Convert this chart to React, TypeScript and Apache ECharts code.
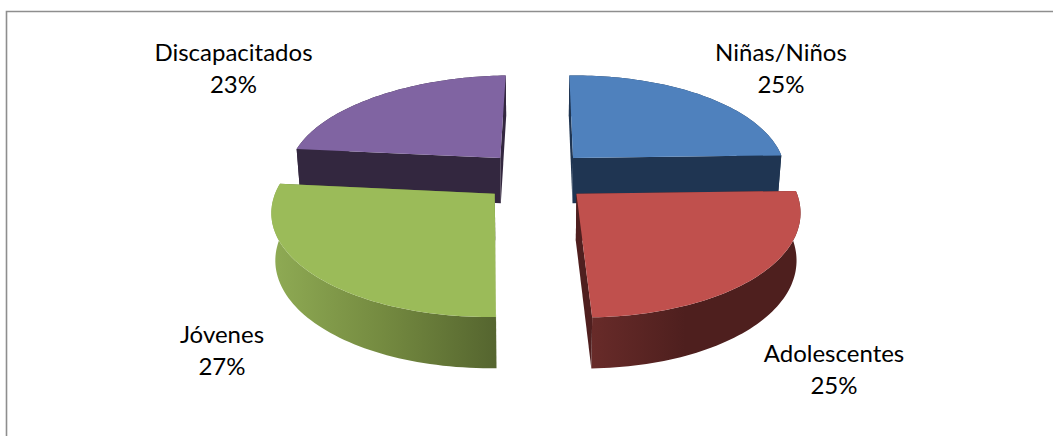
import React, { useEffect, useRef } from "react";
import * as echarts from "echarts";

const categories = ["Niñas/Niños", "Adolescentes", "Jóvenes", "Discapacitados"];
const shares = [25, 25, 27, 23];

const topColors = ["#4F81BD", "#C0504D", "#9BBB59", "#8064A2"];
const wallColors = ["#1F3552", "#4F1F1F", "#5E7036", "#33273F"];
const rimStops: [number, string][][] = [
  [[0, "#1F3552"], [1, "#1F3552"]],
  [[0, "#682B29"], [0.45, "#4E1F1E"], [1, "#4E1F1E"]],
  [[0, "#8FAB54"], [0.5, "#748A40"], [1, "#55652F"]],
  [[0, "#33273F"], [1, "#33273F"]],
];

// Label centres, one per slice, in page pixels.
const labelCentres = [
  [781, 67.5],
  [834, 368.5],
  [222, 349.5],
  [233.5, 67.5],
];

// Projection of the tilted, exploded pie.
const CX = 536;
const CY = 176;
const RX = 214.5;
const RY = 99.5;
const PERSPECTIVE = 0.147;
const EXPLODE = 0.18;
const THICK = 46;
const BASE_SHRINK = 0.985;
const ROTATION = -1;
const BOW = 3;
const ROLL = 0.005;

function project(px: number, py: number, base: boolean): number[] {
  const w = 1 + PERSPECTIVE * py;
  const x = (RX * px) / w + BOW * py * py;
  const y = CY - (RY * py) / w - ROLL * x;
  if (!base) return [CX + x, y];
  return [CX + x * BASE_SHRINK, y + THICK - 4.4 * py];
}

function sliceShapes(index: number) {
  const total = shares.reduce((a, b) => a + b, 0);
  const before = shares.slice(0, index).reduce((a, b) => a + b, 0);
  const start = ROTATION + (before / total) * 360;
  const end = start + (shares[index] / total) * 360;
  const mid = (((start + end) / 2) * Math.PI) / 180;
  // Diagonal explosion away from the pie's centre, kept on the quadrant's axis.
  const ex = EXPLODE * Math.SQRT2 * Math.sin(mid);
  const ey = EXPLODE * Math.SQRT2 * Math.cos(mid);
  const arc: number[][] = [];
  const steps = 64;
  for (let i = 0; i <= steps; i++) {
    const a = ((start + ((end - start) * i) / steps) * Math.PI) / 180;
    arc.push([ex + Math.sin(a), ey + Math.cos(a)]);
  }
  const topArc = arc.map((p) => project(p[0], p[1], false));
  const baseArc = arc.map((p) => project(p[0], p[1], true));
  const hubTop = project(ex, ey, false);
  const hubBase = project(ex, ey, true);
  return { topArc, baseArc, hubTop, hubBase };
}

function renderSlice(params: any, api: any) {
  const index = api.value(0);
  const { topArc, baseArc, hubTop, hubBase } = sliceShapes(index);
  const last = topArc.length - 1;
  const poly = (points: number[][], fill: any) => ({
    type: "polygon",
    shape: { points },
    style: { fill, stroke: "none" },
    silent: true,
  });
  const rimFill = new echarts.graphic.LinearGradient(
    0,
    0,
    1,
    0,
    rimStops[index].map(([offset, color]) => ({ offset, color }))
  );
  const [lx, ly] = labelCentres[index];
  const text = (t: string, y: number) => ({
    type: "text",
    style: {
      text: t,
      x: lx,
      y,
      fill: "#000000",
      font: '400 24px Lato, "Noto Sans", sans-serif',
      textAlign: "center",
      textVerticalAlign: "middle",
    },
    silent: true,
  });
  return {
    type: "group",
    children: [
      poly([...topArc, ...[...baseArc].reverse()], rimFill),
      poly([hubTop, topArc[0], baseArc[0], hubBase], wallColors[index]),
      poly([hubTop, topArc[last], baseArc[last], hubBase], wallColors[index]),
      poly([hubTop, ...topArc], topColors[index]),
      text(categories[index], ly - 16),
      text(shares[index] + "%", ly + 16),
    ],
  };
}

export default function App() {
  const ref = useRef<HTMLDivElement>(null);
  useEffect(() => {
    const chart = echarts.init(ref.current, undefined, { renderer: "svg" });
    // Back slices are painted first so the front ones overlap them.
    const order = [0, 3, 1, 2];
    chart.setOption({
      animation: false,
      backgroundColor: "#ffffff",
      graphic: [
        {
          type: "polyline",
          shape: { points: [[6.5, 436], [6.5, 11.5], [1053, 11.5]] },
          style: { stroke: "#8E8E8E", lineWidth: 1.6, fill: "none" },
          silent: true,
        },
      ],
      xAxis: { show: false, type: "value", min: 0, max: 1 },
      yAxis: { show: false, type: "value", min: 0, max: 1 },
      grid: { left: 0, right: 0, top: 0, bottom: 0 },
      series: [
        {
          type: "custom",
          coordinateSystem: "cartesian2d",
          renderItem: renderSlice,
          data: order.map((i) => [i, shares[i]]),
          encode: { x: 1, y: 1 },
          clip: false,
          silent: true,
        },
      ],
    });
    return () => chart.dispose();
  }, []);
  return (
    <div
      ref={ref}
      style={{ position: "fixed", left: 0, top: 0, width: 1053, height: 436 }}
    />
  );
}
